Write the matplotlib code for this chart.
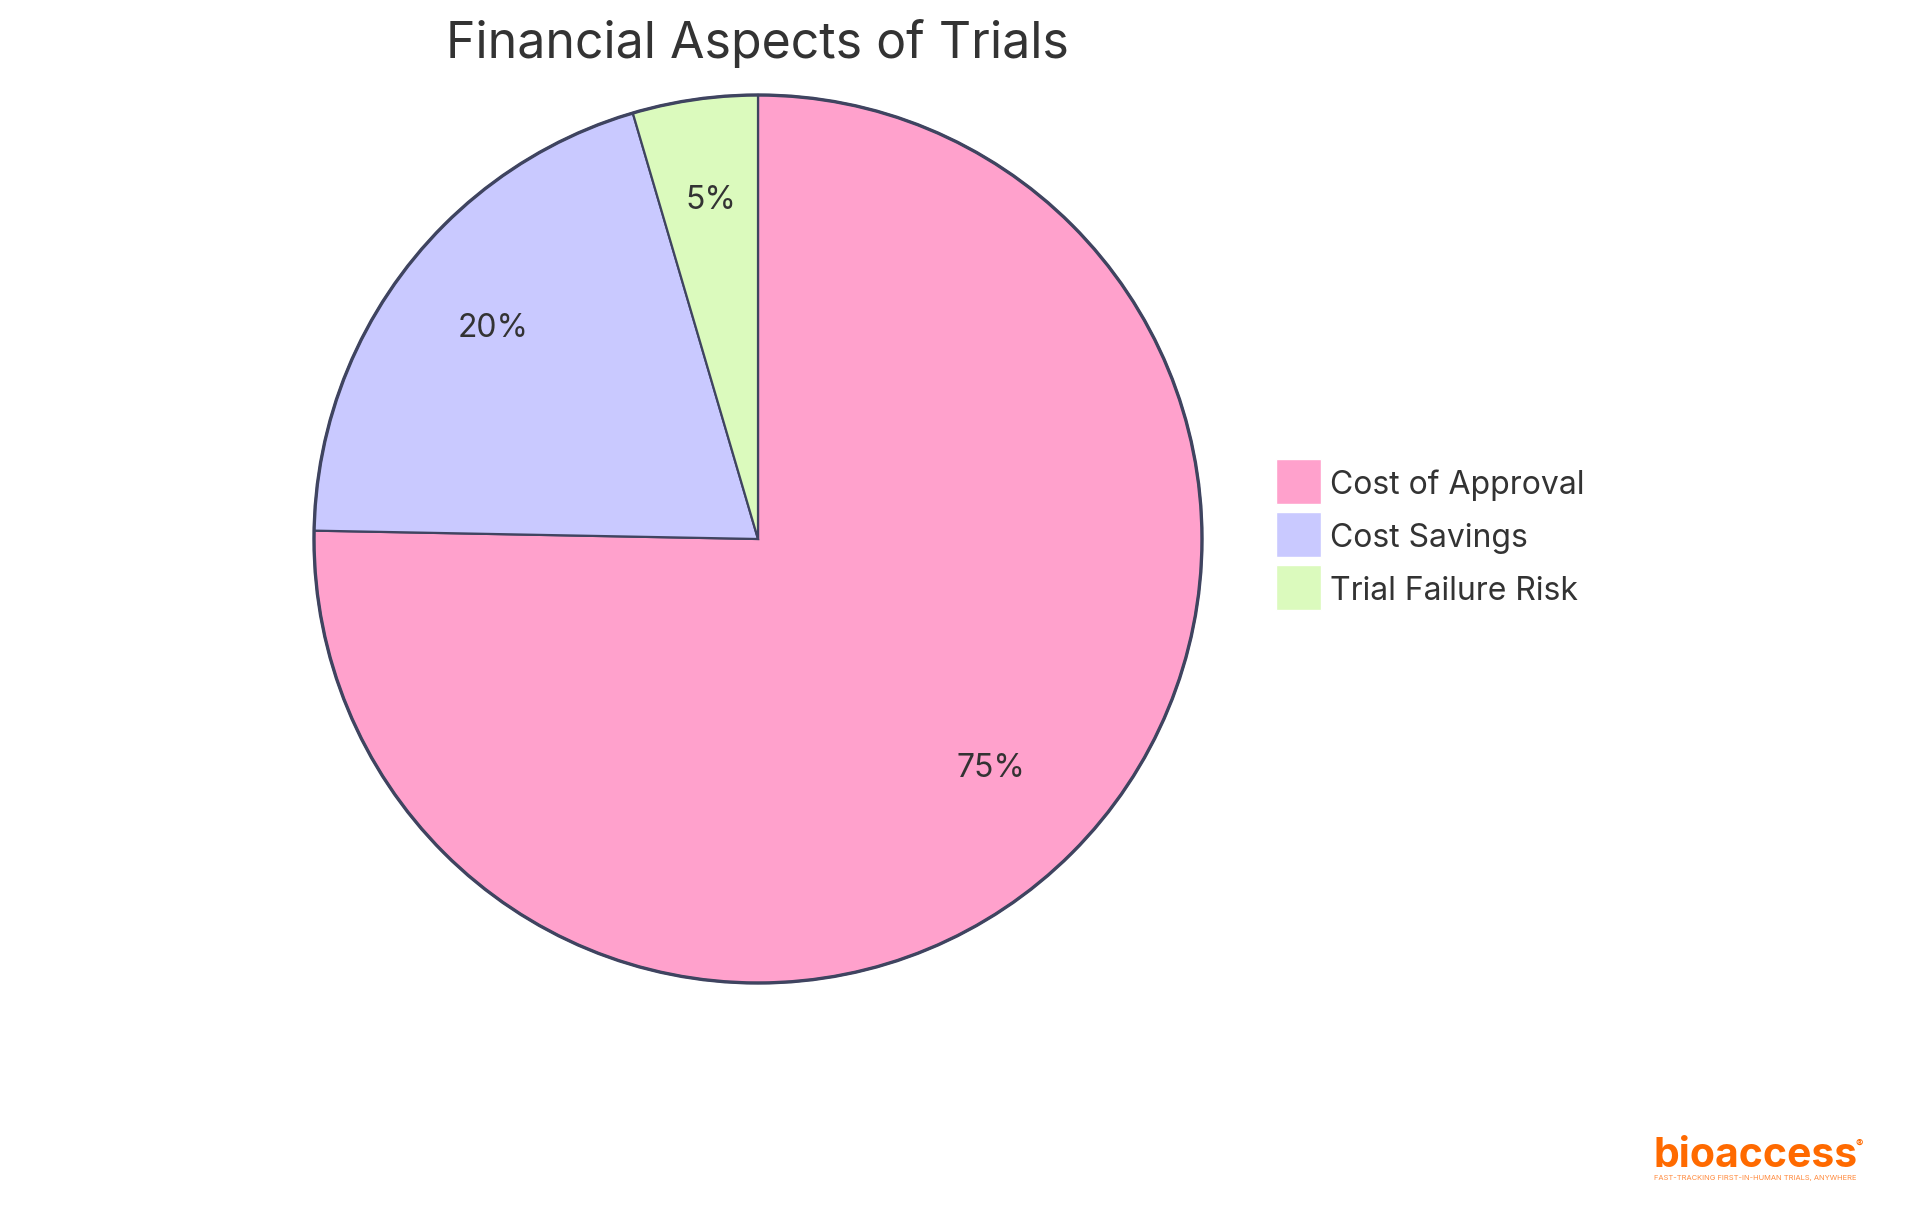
import matplotlib.pyplot as plt
from matplotlib.patches import Rectangle, Circle

plt.rcParams['font.family'] = ['Inter', 'DejaVu Sans']

labels = ['Cost of Approval', 'Cost Savings', 'Trial Failure Risk']
values = [75.3, 20.15, 4.55]
colors = ['#FFA1CC', '#C9C9FF', '#DBFABD']
edge = '#3F4460'
txt = '#333333'

W, H = 1920, 1215
fig = plt.figure(figsize=(W / 100, H / 100), dpi=100)
fig.patch.set_facecolor('white')

# pie centre / radius in pixels (from top-left)
cx, cy, R = 758, 539, 444
pad = 1.03
half = R * pad
ax = fig.add_axes([(cx - half) / W, (H - cy - half) / H, 2 * half / W, 2 * half / H])

wedges, texts, autotexts = ax.pie(
    values, colors=colors, startangle=90, counterclock=False, radius=1,
    autopct=lambda p: '%d%%' % round(p), pctdistance=0.75,
    wedgeprops=dict(edgecolor=edge, linewidth=1.6),
    textprops=dict(color=txt, fontsize=23))
for t in autotexts:
    t.set_va('baseline')
ax.add_patch(Circle((0, 0), 1, fill=False, edgecolor=edge, linewidth=2.4))
# pie() resets the limits, so set them afterwards
ax.set_xlim(-pad, pad)
ax.set_ylim(-pad, pad)
ax.set_aspect('equal')
ax.axis('off')

fig.text(757 / W, 1 - 44 / H, 'Financial Aspects of Trials', ha='center', va='center',
         fontsize=36, color=txt)

# legend
sw = 45
for i, (lab, col) in enumerate(zip(labels, colors)):
    top = 459 + i * 53
    fig.add_artist(Rectangle((1276 / W, 1 - (top + sw) / H), sw / W, sw / H,
                             transform=fig.transFigure, facecolor=col,
                             edgecolor='white', linewidth=1))
    fig.text(1330 / W, 1 - (top + sw / 2 + 4) / H, lab, ha='left', va='center',
             fontsize=23, color=txt)

# logo
fig.text(1654 / W, 1 - 1167 / H, 'bioaccess', ha='left', va='baseline',
         fontsize=29.5, fontweight='bold', color='#FF6A00')
fig.text(1859 / W, 1 - 1144 / H, '®', ha='center', va='center',
         fontsize=8, fontweight='bold', color='#FF6A00')
fig.text(1755 / W, 1 - 1178 / H, 'FAST-TRACKING FIRST-IN-HUMAN TRIALS, ANYWHERE',
         ha='center', va='center', fontsize=5.4, color='#FF8A3D')

fig.savefig('out.png', dpi=100, facecolor='white')
